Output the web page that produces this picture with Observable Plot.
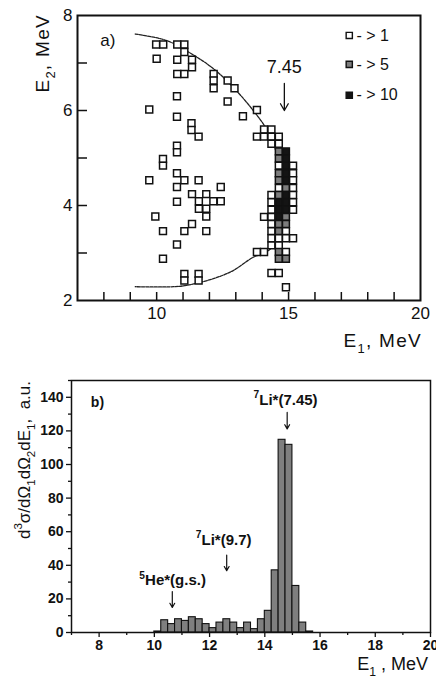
<!DOCTYPE html>
<html><head><meta charset="utf-8">
<script src="https://cdn.jsdelivr.net/npm/d3@7"></script>
<script src="https://cdn.jsdelivr.net/npm/@observablehq/plot@0.6"></script>
<style>
body{margin:0;background:#fff;}
#wrap{position:relative;width:436px;height:680px;overflow:hidden;font-family:"Liberation Sans",Arial,sans-serif;}
#top{position:absolute;left:0;top:0;}
#bot{position:absolute;left:0;top:355px;}
svg{overflow:visible;}
</style></head><body><div id="wrap"><div id="top"></div><div id="bot"></div></div>
<script>
// ---------- Panel a) : E2 vs E1 coincidence cells ----------
const cellE1 = [
  9.98,10.25,10.78,11.05,10.0,11.05,10.78,11.34,11.34,10.78,11.05,
  12.16,12.16,12.16,12.69,12.95,12.69,13.27,13.8,9.72,10.77,10.77,
  11.32,11.32,11.59,10.77,10.77,10.24,10.24,9.72,10.77,11.05,10.77,11.59,10.77,
  11.34,11.88,11.6,12.15,12.43,12.43,11.6,11.88,11.88,
  9.95,10.24,11.05,11.34,11.88,10.77,10.24,11.05,11.05,11.59,11.59,
  // right-hand cluster (7Li* 7.45 locus)
  14.07,14.35,
  13.8,14.07,14.35,14.63,
  14.35,14.63,
  14.63,14.9,
  14.63,14.9,
  14.63,14.9,15.17,
  14.63,14.9,15.17,
  14.63,14.9,15.17,
  14.63,14.9,15.17,
  14.35,14.63,14.9,15.17,
  14.35,14.63,14.9,15.17,
  14.35,14.63,14.9,15.17,
  14.07,14.35,14.63,14.9,
  14.35,14.63,14.9,
  14.35,14.63,14.9,
  14.35,14.63,14.9,15.17,
  14.35,14.63,
  13.8,14.07,14.63,14.9,
  14.63,14.9,
  14.35,14.63,
  14.9
];
const cellE2 = [
  7.39,7.39,7.39,7.39,7.09,7.23,7.07,7.07,6.91,6.77,6.77,
  6.77,6.63,6.47,6.63,6.47,6.19,5.88,6.01,6.02,6.3,5.87,
  5.73,5.59,5.45,5.26,5.12,4.98,4.84,4.53,4.68,4.53,4.39,4.53,4.08,
  4.24,4.24,4.09,4.09,4.39,4.09,3.93,3.93,3.77,
  3.77,3.46,3.46,3.61,3.46,3.18,2.88,2.56,2.42,2.56,2.42,
  5.6,5.6,
  5.45,5.45,5.45,5.45,
  5.3,5.3,
  5.14,5.14,
  4.99,4.99,
  4.84,4.84,4.84,
  4.68,4.68,4.68,
  4.53,4.53,4.53,
  4.37,4.37,4.37,
  4.22,4.22,4.22,4.22,
  4.07,4.07,4.07,4.07,
  3.91,3.91,3.91,3.91,
  3.76,3.76,3.76,3.76,
  3.61,3.61,3.61,
  3.46,3.46,3.46,
  3.31,3.31,3.31,3.31,
  3.16,3.16,
  3.02,3.02,3.02,3.02,
  2.88,2.88,
  2.58,2.58,
  2.28
];
const cellN = [
  1,1,1,1,1,1,1,1,1,1,1,
  1,1,1,1,1,1,1,1,1,1,1,
  1,1,1,1,1,1,1,1,1,1,1,1,1,
  1,1,1,1,1,1,1,1,1,
  1,1,1,1,1,1,1,1,1,1,1,
  1,1,
  1,1,1,1,
  1,1,
  5,10,
  5,10,
  1,10,1,
  5,10,1,
  5,10,1,
  1,5,1,
  1,5,10,1,
  1,10,10,1,
  1,10,10,1,
  1,1,10,5,
  1,5,5,
  1,5,1,
  1,1,1,1,
  1,1,
  1,1,5,1,
  5,5,
  1,1,
  1
];
// kinematic locus
const locusE1 = [9.19,10.39,11.33,12.15,12.9,13.66,14.16,14.55,14.8,14.85,14.75,14.5,14.1,13.66,12.9,12.15,11.14,10.64,9.19];
const locusE2 = [7.61,7.47,7.19,6.88,6.49,6.0,5.61,5.1,4.6,4.0,3.5,3.2,3.0,2.91,2.63,2.46,2.32,2.29,2.29];
// legend
const legendN = [1,5,10];
const legendText = ["- > 1","- > 5","- > 10"];
const legendY = [7.58,6.97,6.32];
const topXTicks = [10,15,20];
const topYTicks = [2,4,6,8];

// ---------- Panel b) : E1 spectrum ----------
const binStart = [10.0,10.25,10.5,10.75,11.0,11.25,11.5,11.75,12.0,12.25,12.5,12.75,13.0,13.25,13.5,13.75,14.0,14.25,14.5,14.75,15.0,15.25,15.5];
const binCount = [0.6,7.3,5,7.9,6.9,9.1,7.9,5,2.6,5.9,7.9,5.9,2.6,5.9,2,7.9,12.9,37,114.7,111.7,27.7,5.9,0.6];
const binWidth = 0.25;
const botXTicks = [8,10,12,14,16,18,20];
const botYTicks = [0,20,40,60,80,100,120,140];
const peakLabels = ["^7Li*(7.45)","^7Li*(9.7)","^5He*(g.s.)"];
const peakLabelX = [14.77,12.53,10.68];
const peakLabelY = [135,51.7,27.8];
const peakArrowX = [14.81,12.62,10.65];
const peakArrowTop = [131,46,24.4];
const peakArrowBot = [121.2,36.8,14.9];

const FONT = '"Liberation Sans", Arial, sans-serif';

function rich(svg, x, y, str, o = {}) {
  const size = o.size || 16;
  const t = d3.select(svg).append("text")
    .attr("transform", `translate(${x},${y}) rotate(${o.rotate || 0})`)
    .attr("text-anchor", o.anchor || "start")
    .attr("fill", "#111")
    .style("font-family", FONT)
    .style("font-size", size + "px")
    .style("font-weight", o.weight || "normal")
    .style("letter-spacing", o.ls || "0px");
  const parts = [];
  for (let i = 0; i < str.length; i++) {
    const c = str[i];
    if ((c === "_" || c === "^") && i + 1 < str.length) {
      parts.push({t: str[i + 1], k: c === "_" ? "sub" : "sup"}); i++;
    } else {
      if (parts.length && parts[parts.length - 1].k === "n") parts[parts.length - 1].t += c;
      else parts.push({t: c, k: "n"});
    }
  }
  let shift = 0;
  for (const p of parts) {
    const target = p.k === "sub" ? size * 0.32 : p.k === "sup" ? -size * 0.45 : 0;
    const s = t.append("tspan").text(p.t).attr("dy", target - shift);
    if (p.k !== "n") s.style("font-size", (size * 0.68) + "px");
    shift = target;
  }
  return t;
}

// ---------- Top plot ----------
const TW = 436, TH = 355, TML = 77, TMR = 16, TMT = 15, TMB = 55;
const cells = cellE1.map((e, i) => ({e1: e, e2: cellE2[i], n: cellN[i]}));
const locus = locusE1.map((e, i) => ({e1: e, e2: locusE2[i]}));
const legend = legendN.map((n, i) => ({n, label: legendText[i], y: legendY[i]}));

const topPlot = Plot.plot({
  width: TW, height: TH,
  marginLeft: TML, marginRight: TMR, marginTop: TMT, marginBottom: TMB,
  x: {domain: [7, 20]},
  y: {domain: [2, 8]},
  color: {type: "ordinal", domain: [1, 5, 10], range: ["#ffffff", "#7d7d7d", "#141414"]},
  style: {fontFamily: FONT, fontSize: "17px", color: "#111", background: "transparent", overflow: "visible"},
  marks: [
    Plot.line(locus, {x: "e1", y: "e2", curve: "catmull-rom", stroke: "#222", strokeWidth: 1.3, strokeDasharray: "3,1.2"}),
    Plot.dot(cells, {x: "e1", y: "e2", symbol: "square", r: 3.9, fill: "n", stroke: "#111", strokeWidth: 1.5}),
    // inward ticks
    Plot.tickX(d3.range(8, 20), {x: d => d, stroke: "#111", strokeWidth: 1.5, insetTop: (TH - TMT - TMB) - 8}),
    Plot.tickY(d3.range(3, 8), {y: d => d, stroke: "#111", strokeWidth: 1.5, insetRight: (TW - TML - TMR) - 10}),
    Plot.axisX({ticks: topXTicks, tickSize: 0, tickPadding: 6, label: null}),
    Plot.axisY({ticks: topYTicks, tickSize: 0, tickPadding: 5, tickFormat: d => String(d), label: null}),
    Plot.frame({stroke: "#111", strokeWidth: 2}),
    Plot.dot(legend, {x: () => 17.3, y: "y", symbol: "square", r: 3.5, fill: "n", stroke: "#111", strokeWidth: 1.4}),
    Plot.text(legend, {x: () => 17.57, y: "y", text: "label", textAnchor: "start", fontSize: 16, fill: "#111"}),
    Plot.text(["7.45"], {x: () => 14.84, y: () => 6.78, textAnchor: "middle", lineAnchor: "bottom", fontSize: 18, fill: "#111"}),
    Plot.arrow([0], {x1: () => 14.84, x2: () => 14.84, y1: () => 6.57, y2: () => 6.0, stroke: "#111", strokeWidth: 1.3, headLength: 9}),
    Plot.text(["a)"], {x: () => 7.86, y: () => 7.35, textAnchor: "start", lineAnchor: "bottom", fontSize: 17, fill: "#111"})
  ]
});
document.getElementById("top").appendChild(topPlot);
rich(topPlot, 422, 347, "E_1, MeV", {size: 19, anchor: "end", ls: "1.3px"});
rich(topPlot, 49, 14, "E_2, MeV", {size: 19, anchor: "end", rotate: -90, ls: "1.3px"});

// ---------- Bottom plot ----------
const bins = binStart.map((s, i) => ({s, e: s + binWidth, v: binCount[i]}));
const botPlot = Plot.plot({
  width: 436, height: 325,
  marginLeft: 71, marginRight: 6, marginTop: 25, marginBottom: 48,
  x: {domain: [7, 20]},
  y: {domain: [0, 150]},
  style: {fontFamily: FONT, fontSize: "14px", fontWeight: "bold", color: "#111", background: "transparent", overflow: "visible"},
  marks: [
    Plot.rectY(bins, {x1: "s", x2: "e", y: "v", fill: "#7f7f7f", stroke: "#111", strokeWidth: 1.1}),
    Plot.axisX({ticks: botXTicks, tickSize: 5, tickPadding: 3, label: null, strokeWidth: 1.3}),
    Plot.axisX({ticks: d3.range(7, 20, 2), tickSize: 3, tickFormat: () => "", label: null, strokeWidth: 1.3}),
    Plot.axisY({ticks: botYTicks, tickSize: 5, tickPadding: 3, label: null, strokeWidth: 1.3}),
    Plot.axisY({ticks: d3.range(10, 151, 20), tickSize: 3, tickFormat: () => "", label: null, strokeWidth: 1.3}),
    Plot.frame({stroke: "#111", strokeWidth: 1.5}),
    Plot.text(["b)"], {x: () => 7.7, y: () => 137, textAnchor: "start", fontSize: 14, fontWeight: "bold", fill: "#111"}),
    Plot.arrow(peakArrowX, {x1: d => d, x2: d => d, y1: (d, i) => peakArrowTop[i], y2: (d, i) => peakArrowBot[i], stroke: "#111", strokeWidth: 1.2, headLength: 6})
  ]
});
document.getElementById("bot").appendChild(botPlot);
const bx = botPlot.scale("x"), by = botPlot.scale("y");
peakLabels.forEach((s, i) => rich(botPlot, bx.apply(peakLabelX[i]), by.apply(peakLabelY[i]), s, {size: 15, anchor: "middle", weight: "bold"}));
rich(botPlot, 428, 315, "E_1 , MeV", {size: 18, anchor: "end"});
rich(botPlot, 30, 105, "d^3σ/dΩ_1dΩ_2dE_1,  a.u.", {size: 17, anchor: "middle", rotate: -90});
</script>
</body></html>
